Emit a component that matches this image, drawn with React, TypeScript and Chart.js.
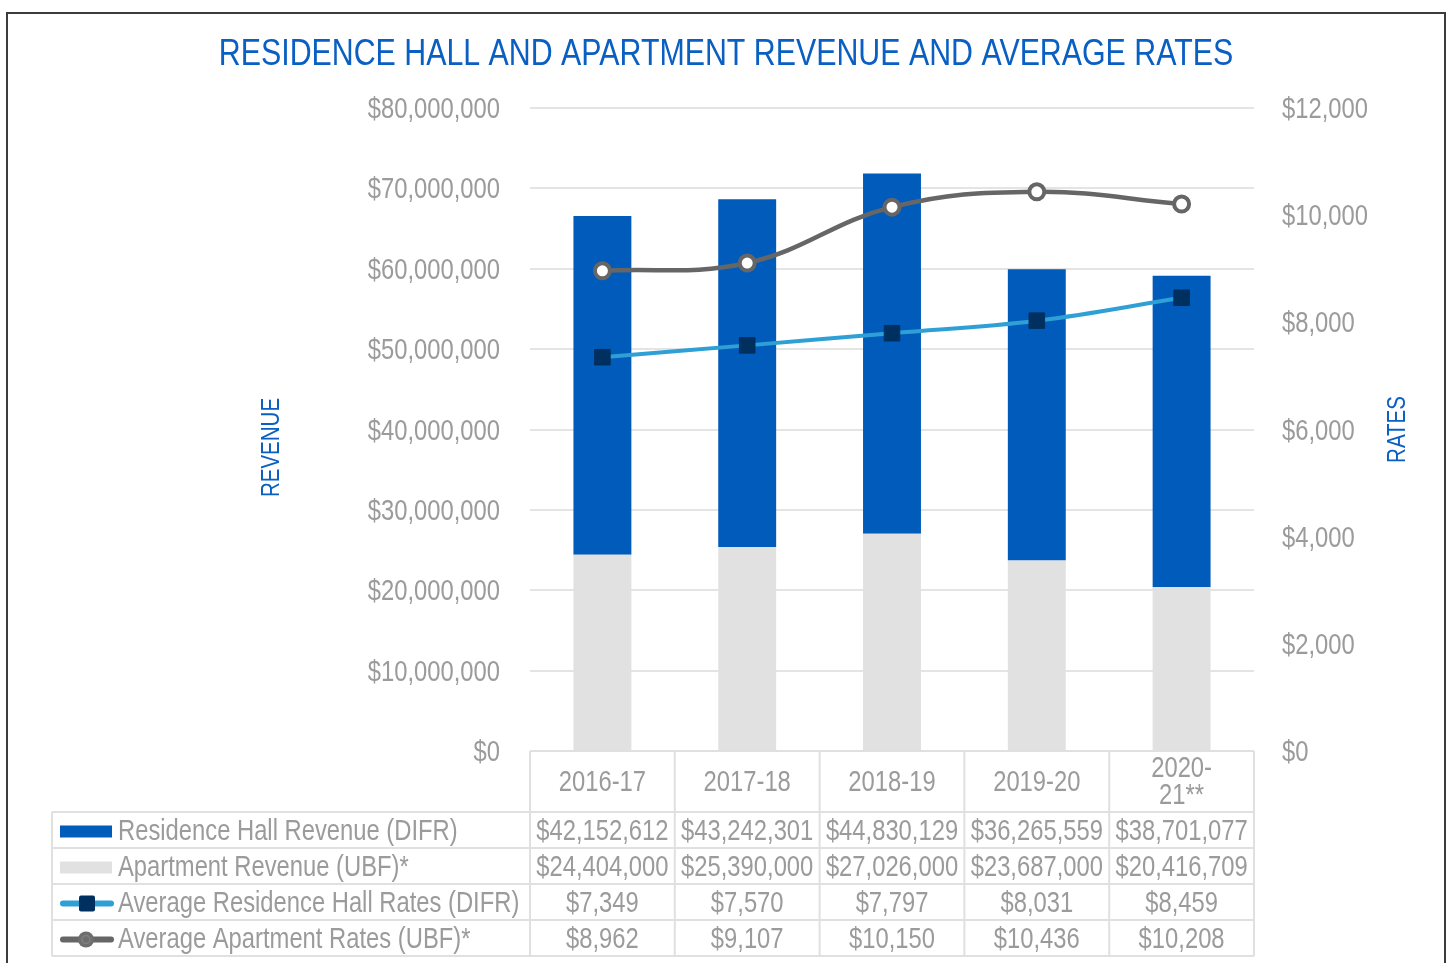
import React, { useEffect, useRef } from 'react';
import { Chart, registerables } from 'chart.js';

Chart.register(...registerables);

const categories: (string | string[])[] = ['2016-17', '2017-18', '2018-19', '2019-20', ['2020-', '21**']];
const residenceHallRevenue = [42152612, 43242301, 44830129, 36265559, 38701077];
const apartmentRevenue = [24404000, 25390000, 27026000, 23687000, 20416709];
const avgResidenceHallRates = [7349, 7570, 7797, 8031, 8459];
const avgApartmentRates = [8962, 9107, 10150, 10436, 10208];

const revenueMax = 80000000;
const revenueStep = 10000000;
const rateMax = 12000;
const rateStep = 2000;

const chartTitle = 'RESIDENCE HALL AND APARTMENT REVENUE AND AVERAGE RATES';
const leftAxisTitle = 'REVENUE';
const rightAxisTitle = 'RATES';

const SANS = '"Liberation Sans", Arial, sans-serif';
const NARROW_SCALE = 0.82;
const BLUE = '#005bbb';
const TITLE_BLUE = '#0a5fc2';
const GRAY_BAR = '#e1e1e1';
const TEXT = '#9b9b9b';
const LINE_BLUE = '#2fa0d5';
const NAVY = '#00305f';
const LINE_GRAY = '#666666';
const GRID = '#e4e4e4';
const TABLE_LINE = '#e0e0e0';

const money = (v: number) => '$' + Math.round(v).toLocaleString('en-US');

function narrowText(
  ctx: CanvasRenderingContext2D,
  text: string,
  x: number,
  y: number,
  align: CanvasTextAlign,
  size: number,
  color: string,
  rotate = 0
) {
  ctx.save();
  ctx.font = `${size}px ${SANS}`;
  ctx.fillStyle = color;
  ctx.textAlign = align;
  ctx.textBaseline = 'middle';
  ctx.translate(x, y);
  if (rotate) ctx.rotate(rotate);
  ctx.scale(NARROW_SCALE, 1);
  ctx.fillText(text, 0, 0);
  ctx.restore();
}

function drawKey(ctx: CanvasRenderingContext2D, kind: string, x: number, cy: number) {
  ctx.save();
  if (kind === 'blueBar') {
    ctx.fillStyle = BLUE;
    ctx.fillRect(x, cy - 6, 52, 12);
  } else if (kind === 'grayBar') {
    ctx.fillStyle = GRAY_BAR;
    ctx.fillRect(x, cy - 6, 52, 12);
  } else if (kind === 'blueLine') {
    ctx.strokeStyle = LINE_BLUE;
    ctx.lineWidth = 6;
    ctx.lineCap = 'round';
    ctx.beginPath();
    ctx.moveTo(x + 3, cy);
    ctx.lineTo(x + 51, cy);
    ctx.stroke();
    ctx.fillStyle = NAVY;
    ctx.beginPath();
    if ((ctx as any).roundRect) (ctx as any).roundRect(x + 19, cy - 8, 16, 16, 2);
    else ctx.rect(x + 19, cy - 8, 16, 16);
    ctx.fill();
  } else {
    ctx.strokeStyle = LINE_GRAY;
    ctx.lineWidth = 6;
    ctx.lineCap = 'round';
    ctx.beginPath();
    ctx.moveTo(x + 3, cy);
    ctx.lineTo(x + 51, cy);
    ctx.stroke();
    ctx.fillStyle = '#6e6e6e';
    ctx.beginPath();
    ctx.arc(x + 26, cy, 8, 0, Math.PI * 2);
    ctx.fill();
    ctx.strokeStyle = '#808080';
    ctx.lineWidth = 1.5;
    ctx.beginPath();
    ctx.arc(x + 26, cy, 4, 0, Math.PI * 2);
    ctx.stroke();
  }
  ctx.restore();
}

const textPlugin = {
  id: 'narrowTexts',
  afterDraw(chart: any) {
    const { ctx, chartArea } = chart;
    const xs = chart.scales.x;
    const ys = chart.scales.y;
    const y1 = chart.scales.y1;
    const labels = chart.data.labels as (string | string[])[];
    const n = labels.length;
    const colW = (chartArea.right - chartArea.left) / n;
    const top = chartArea.bottom;
    const headH = 61;
    const rowH = 36;
    const tableLeft = 52;
    const rowOrder = [1, 0, 2, 3];
    const keys = ['blueBar', 'grayBar', 'blueLine', 'grayLine'];
    const bottom = top + headH + rowOrder.length * rowH;
    const FS = 29;

    // chart title
    narrowText(ctx, chartTitle, chart.width / 2, 55, 'center', 37, TITLE_BLUE);

    // tick labels from the scales
    ys.ticks.forEach((t: any, i: number) => {
      narrowText(ctx, money(t.value), chartArea.left - 30, ys.getPixelForTick(i) + 2, 'right', FS, TEXT);
    });
    y1.ticks.forEach((t: any, i: number) => {
      narrowText(ctx, money(t.value), chartArea.right + 28, y1.getPixelForTick(i) + 2, 'left', FS, TEXT);
    });

    // axis titles
    const midY = (chartArea.top + chartArea.bottom) / 2;
    narrowText(ctx, leftAxisTitle, chartArea.left - 258, midY + 18, 'center', 25, TITLE_BLUE, -Math.PI / 2);
    narrowText(ctx, rightAxisTitle, chartArea.right + 144, midY, 'center', 25, TITLE_BLUE, -Math.PI / 2);

    // data table
    ctx.save();
    ctx.strokeStyle = TABLE_LINE;
    ctx.lineWidth = 2;
    ctx.beginPath();
    ctx.moveTo(chartArea.left, top);
    ctx.lineTo(chartArea.right, top);
    for (let r = 0; r <= rowOrder.length; r++) {
      const y = top + headH + r * rowH;
      ctx.moveTo(tableLeft, y);
      ctx.lineTo(chartArea.right, y);
    }
    for (let i = 0; i <= n; i++) {
      const xx = chartArea.left + i * colW;
      ctx.moveTo(xx, top);
      ctx.lineTo(xx, bottom);
    }
    ctx.moveTo(tableLeft, top + headH);
    ctx.lineTo(tableLeft, bottom);
    ctx.stroke();
    ctx.restore();

    labels.forEach((lab, i) => {
      const cx = xs.getPixelForValue(i);
      const lines = Array.isArray(lab) ? lab : [lab];
      lines.forEach((t, k) => {
        narrowText(ctx, t, cx, top + headH / 2 + 1 + (k - (lines.length - 1) / 2) * 27, 'center', FS, TEXT);
      });
    });

    rowOrder.forEach((dsIdx, r) => {
      const ds = chart.data.datasets[dsIdx];
      const cy = top + headH + r * rowH + rowH / 2 + 1.5;
      drawKey(ctx, keys[r], 60, cy);
      narrowText(ctx, ds.label, 118, cy, 'left', FS, TEXT);
      (ds.data as number[]).forEach((v, i) => {
        narrowText(ctx, money(v), xs.getPixelForValue(i), cy, 'center', FS, TEXT);
      });
    });
  },
};

export default function App() {
  const canvasRef = useRef<HTMLCanvasElement | null>(null);

  useEffect(() => {
    const canvas = canvasRef.current;
    if (!canvas) return;
    const chart = new Chart(canvas, {
      type: 'bar',
      data: {
        labels: categories as any,
        datasets: [
          {
            type: 'bar',
            label: 'Apartment Revenue (UBF)*',
            data: apartmentRevenue,
            backgroundColor: GRAY_BAR,
            yAxisID: 'y',
            stack: 'rev',
            order: 1,
            barPercentage: 0.4,
            categoryPercentage: 1,
          },
          {
            type: 'bar',
            label: 'Residence Hall Revenue (DIFR)',
            data: residenceHallRevenue,
            backgroundColor: BLUE,
            yAxisID: 'y',
            stack: 'rev',
            order: 1,
            barPercentage: 0.4,
            categoryPercentage: 1,
          },
          {
            type: 'line',
            label: 'Average Residence Hall Rates (DIFR)',
            data: avgResidenceHallRates,
            yAxisID: 'y1',
            borderColor: LINE_BLUE,
            borderWidth: 4,
            tension: 0.4,
            pointStyle: 'rect',
            pointRadius: 11,
            pointBackgroundColor: NAVY,
            pointBorderColor: NAVY,
            pointBorderWidth: 1,
            order: 0,
          },
          {
            type: 'line',
            label: 'Average Apartment Rates (UBF)*',
            data: avgApartmentRates,
            yAxisID: 'y1',
            borderColor: LINE_GRAY,
            borderWidth: 4.5,
            tension: 0.4,
            pointStyle: 'circle',
            pointRadius: 7.5,
            pointBackgroundColor: '#ffffff',
            pointBorderColor: LINE_GRAY,
            pointBorderWidth: 4,
            order: 0,
          },
        ] as any,
      },
      options: {
        responsive: false,
        animation: false,
        layout: { padding: { top: 108, left: 0, right: 0, bottom: 0 } },
        plugins: {
          legend: { display: false },
          tooltip: { enabled: false },
          title: { display: false },
        },
        scales: {
          x: {
            stacked: true,
            offset: true,
            grid: { display: false },
            border: { display: false },
            ticks: { display: false },
            afterFit: (s: any) => {
              s.height = 212;
            },
          },
          y: {
            stacked: true,
            position: 'left',
            min: 0,
            max: revenueMax,
            ticks: { stepSize: revenueStep, display: false },
            grid: { color: GRID, lineWidth: 2, drawTicks: false },
            border: { display: false },
            afterFit: (s: any) => {
              s.width = 530;
            },
          },
          y1: {
            position: 'right',
            min: 0,
            max: rateMax,
            ticks: { stepSize: rateStep, display: false },
            grid: { display: false, drawTicks: false },
            border: { display: false },
            afterFit: (s: any) => {
              s.width = 198;
            },
          },
        },
      } as any,
      plugins: [textPlugin],
    });
    return () => chart.destroy();
  }, []);

  return (
    <div style={{ position: 'absolute', left: 0, top: 0, width: 1452, height: 963, background: '#ffffff', overflow: 'hidden' }}>
      <canvas ref={canvasRef} width={1452} height={963} style={{ position: 'absolute', left: 0, top: 0, width: 1452, height: 963 }} />
      <div
        style={{
          position: 'absolute',
          left: 6,
          top: 12,
          width: 1440,
          height: 1000,
          border: '2px solid #3c3c3c',
          boxSizing: 'border-box',
          pointerEvents: 'none',
        }}
      />
    </div>
  );
}
